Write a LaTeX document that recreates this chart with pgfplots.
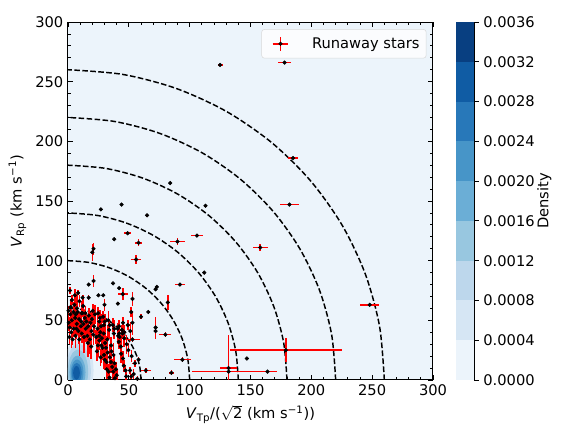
\documentclass[border=0pt]{standalone}
\usepackage{pgfplots}
\usepackage{pgfplotstable}
\usepackage{fontspec}
\setmainfont{DejaVu Sans}
\pgfplotsset{compat=1.18}

% Blues levels (contourf bins, 0.0004 wide)
\definecolor{cbA}{HTML}{ECF4FB}
\definecolor{cbB}{HTML}{D6E6F4}
\definecolor{cbC}{HTML}{BDD7EC}
\definecolor{cbD}{HTML}{98C7E0}
\definecolor{cbE}{HTML}{6BAED6}
\definecolor{cbF}{HTML}{4795C8}
\definecolor{cbG}{HTML}{2878B9}
\definecolor{cbH}{HTML}{105CA4}
\definecolor{cbI}{HTML}{083F81}
\definecolor{ebred}{HTML}{FF0000}

\pgfplotstableread{
x y ex ey
0.6 48 0.5 7
1.4 44 0.5 9
1.9 55 0.8 11
2.7 40 0.5 13
3.1 50 0.8 6
4.4 57 0.5 8
4.6 43 0.8 7
5.9 52 0.5 15
6.1 37 0.8 10
7.2 47 0.5 9
7.4 60 0.8 12
8.6 41 0.5 11
9.1 51 0.8 6
9.3 34 0.5 14
10.6 45 0.8 9
11.1 56 0.5 10
11.3 39 0.8 8
12.7 47 0.5 12
13.2 36 0.8 13
13.8 52 0.5 7
14.6 43 0.8 11
15.1 49 0.5 7
15.9 37 0.8 12
16.6 45 0.5 9
17.1 54 0.8 6
17.9 34 0.5 12
18.4 48 0.8 8
19.3 41 0.5 10
19.7 51 0.8 7
20.8 38 0.5 9
21.4 45 0.8 6
2.3 61 0.5 7
5.3 63 0.8 8
9.4 66 0.5 5
3.2 67 0.5 4
5.6 71 0.5 5
1.6 75 0.5 3
8.3 73 0.5 2
12.4 62 0.8 9
1.2 36 0.5 6
6.9 43 0.5 9
10.9 49 0.5 7
14.3 56 0.5 6
16.3 31 0.5 12
19.1 28 0.5 10
3.8 34 0.5 5
6.4 55 0.5 5
0.4 58 0.5 4
20.4 58 1.5 6
22.1 55 1.5 8
24.8 56 1 5
26.2 52 1.5 7
28.9 53 1.5 5
30.3 49 1 6
33.1 50 1.5 8
34.2 46 1.5 5
36.9 46 1 6
38.1 43 1.5 7
40.8 43 1.5 5
42.2 39 1 6
44.9 39 1.5 5
46.2 35 1 7
25.7 49 1 5
29.6 46 1.5 6
33.8 42 1 8
37.7 39 1.5 5
42.4 36 1 6
24.3 43 1 10
25.6 37 1 12
25.8 33 1 8
27.4 29 1 15
28.3 27 1 10
29.6 21 1 12
30.2 17 1 9
31.7 15 1 10
31.9 9 1 8
33.4 7 1 6
34.1 2 1 5
26.6 40 1 7
27.8 35 1 9
30.5 31 1 14
31.2 27 1 10
32.6 23 1 8
34.4 19 1 11
35.3 15 1 9
36.4 11 1 7
37.2 7 1 6
27.1 45 1 10
29.4 39 1 8
32.3 34 1 12
35.5 29 1 7
35.8 24 1 9
37.4 21 1 10
38.3 14 1 8
39.4 9 1 6
40.1 4 1 5
24.6 29 1 10
23.8 24 1 8
26.9 19 1 7
38.6 1.5 1 4
23.2 36 1 6
41.3 37 1 7
41.8 32 1.5 6
43.4 28 1 10
43.7 22 1 8
45.2 18 1 6
45.9 12 1 5
47.3 8 1 4
47.8 3 1 4
45.2 48 1.5 5
49.1 46 1.5 4
53 48 1.5 10
51.2 41 1 8
53 34 6 2
55 14 2 3
51 8 1 3
49.6 25 1 6
52.3 20 1 5
48.2 30 1 8
54 5 1 4
42 45 1 5
44.4 42 1.5 4
46.3 40 1 6
57 1 1 2
58 17 1 2
52 3 1 2
45 72 4 5
53 68 1 6
52 57 1 4
60 53 1 2
66 57 1 2
72 44 1 9
72 41 1 7
80 38 5 2
82 65 1 6
73 78 1 1
72 76 1 1
92 80 4 1
37 81 0.5 0.5
42 77 1 1
29 71 1 1
25 71 1 1
30 63 1 5
41 64 1 1
17 80 1 1
21 83 1 5
17 69 1 2
12 69 1 2
8 57 1 2
2 61 1 2
12 56 1 2
64 8 4 2
85 6 2 2
94 17 7 2
132 10 7 28
132 7 30 2
164 7 8 1
147 18 0 0
179 25 46 10
248 63 8 1
158 111 6 3
90 116 6 3
106 121 5 1
112 90 0.5 0.5
56 101 4 4
58 115 3 3
49 123 3 1
38 118 0.5 0.5
65 138 1 1
44 147 0.5 0.5
27 143 0.5 0.5
84 165 0.5 0.5
113 146 1 1
125 264 2 1
178 266 5 1
185 186 4 1
182 147 8 1
20 107 1 7
21 110 1 5
}\runaway

\begin{document}
\begin{tikzpicture}[font=\fontsize{11}{13}\selectfont]
\path[use as bounding box] (-51pt,-39pt) rectangle (381pt,285pt);

\begin{axis}[
  at={(0pt,0pt)}, anchor=south west,
  scale only axis,
  width=273.75pt, height=268.5pt,
  xmin=0, xmax=300, ymin=0, ymax=300,
  xtick={0,50,...,300}, ytick={0,50,...,300},
  minor tick num=4,
  tick align=inside,
  xtick pos=both, ytick pos=both,
  xticklabel pos=lower, yticklabel pos=left,
  major tick length=3.5pt, minor tick length=2pt,
  tick style={black, line width=0.6pt},
  axis line style={line width=0.75pt},
  /pgf/number format/assume math mode=true,
  axis background/.style={fill=cbA},
  xlabel={\textit{V}\textsubscript{Tp}/($\sqrt{\mbox{2}}$ (km s\textsuperscript{−1}))},
  ylabel={\textit{V}\textsubscript{Rp} (km s\textsuperscript{−1})},
  legend style={at={(0.982,0.98)}, anchor=north east, draw=black!15,
    rounded corners=2pt, fill=white, fill opacity=0.8, text opacity=1,
    inner xsep=3pt, inner ysep=4pt},
  legend cell align=left,
]
% density contours
\addplot[fill=cbB, draw=none, smooth, forget plot] coordinates {
(9,-20) (15,-16.2) (19.4,-6) (21,8) (19.4,22) (15,32.2) (9,36) (3,32.2) (-1.4,22) (-3,8) (-1.4,-6) (3,-16.2) (9,-20)};
\addplot[fill=cbC, draw=none, smooth, forget plot] coordinates {
(8.6,-15.5) (13.7,-12.4) (17.4,-4) (18.8,7.5) (17.4,19) (13.7,27.4) (8.6,30.5) (3.5,27.4) (-0.2,19) (-1.6,7.5) (-0.2,-4) (3.5,-12.4) (8.6,-15.5)};
\addplot[fill=cbD, draw=none, smooth, forget plot] coordinates {
(8.2,-11.5) (12.4,-9) (15.5,-2.25) (16.6,7) (15.5,16.25) (12.4,23) (8.2,25.5) (4,23) (0.9,16.25) (-0.2,7) (0.9,-2.25) (4,-9) (8.2,-11.5)};
\addplot[fill=cbE, draw=none, smooth, forget plot] coordinates {
(7.8,-7.6) (11.1,-5.7) (13.5,-0.6) (14.4,6.4) (13.5,13.4) (11.1,18.5) (7.8,20.4) (4.5,18.5) (2.1,13.4) (1.2,6.4) (2.1,-0.6) (4.5,-5.7) (7.8,-7.6)};
\addplot[fill=cbF, draw=none, smooth, forget plot] coordinates {
(7.5,-4.8) (10.1,-3.3) (12,0.7) (12.7,6.2) (12,11.7) (10.1,15.7) (7.5,17.2) (4.9,15.7) (3,11.7) (2.3,6.2) (3,0.7) (4.9,-3.3) (7.5,-4.8)};
\addplot[fill=cbG, draw=none, smooth, forget plot] coordinates {
(7.2,-2.3) (9.2,-1.2) (10.7,1.85) (11.2,6) (10.7,10.2) (9.2,13.2) (7.2,14.3) (5.2,13.2) (3.7,10.2) (3.2,6) (3.7,1.85) (5.2,-1.2) (7.2,-2.3)};
\addplot[fill=cbH, draw=none, smooth, forget plot] coordinates {
(7,0.2) (8.4,1) (9.4,3.1) (9.8,6) (9.4,8.9) (8.4,11) (7,11.8) (5.6,11) (4.6,8.9) (4.2,6) (4.6,3.1) (5.6,1) (7,0.2)};

% reference circles, r = 60 ... 260 km/s
\pgfplotsset{circ/.style={black, line width=1.1pt, dash pattern=on 4.2pt off 1.8pt, smooth, forget plot}}
\addplot[circ] coordinates {(60,0) (59.09,10.42) (56.38,20.52) (51.96,30) (45.96,38.57) (38.57,45.96) (30,51.96) (20.52,56.38) (10.42,59.09) (0,60)};
\addplot[circ] coordinates {(100,0) (98.48,17.36) (93.97,34.20) (86.60,50) (76.60,64.28) (64.28,76.60) (50,86.60) (34.20,93.97) (17.36,98.48) (0,100)};
\addplot[circ] coordinates {(140,0) (137.87,24.31) (131.56,47.88) (121.24,70) (107.25,89.99) (89.99,107.25) (70,121.24) (47.88,131.56) (24.31,137.87) (0,140)};
\addplot[circ] coordinates {(180,0) (177.27,31.26) (169.14,61.56) (155.88,90) (137.89,115.70) (115.70,137.89) (90,155.88) (61.56,169.14) (31.26,177.27) (0,180)};
\addplot[circ] coordinates {(220,0) (216.66,38.20) (206.73,75.24) (190.53,110) (168.53,141.41) (141.41,168.53) (110,190.53) (75.24,206.73) (38.20,216.66) (0,220)};
\addplot[circ] coordinates {(260,0) (256.05,45.15) (244.32,88.93) (225.17,130) (199.17,167.13) (167.13,199.17) (130,225.17) (88.93,244.32) (45.15,256.05) (0,260)};

% runaway stars: red error bars, black dots
\addplot[ebred, only marks, mark=*, mark size=1.35pt,
  mark options={draw=black, fill=black},
  legend image code/.code={
    \path[draw=none, fill=none] (0cm,0cm) -- (1.15cm,0cm);
    \draw[ebred, line width=1.15pt] (0.18cm,0cm) -- (0.60cm,0cm) (0.39cm,-0.19cm) -- (0.39cm,0.19cm);
    \fill[black] (0.39cm,0cm) circle (1.35pt);},
  error bars/.cd, x dir=both, x explicit, y dir=both, y explicit,
  error mark=none, error bar style={draw=ebred, solid, line width=1.15pt}]
  table[x=x, y=y, x error=ex, y error=ey] {\runaway};
\addlegendentry{Runaway stars}
\end{axis}

% colour bar
\begin{axis}[
  at={(291pt,0pt)}, anchor=south west,
  scale only axis,
  width=13.5pt, height=268.5pt,
  xmin=0, xmax=1, ymin=0, ymax=36,
  xtick=\empty,
  ytick={0,4,...,36},
  yticklabels={0.0000,0.0004,0.0008,0.0012,0.0016,0.0020,0.0024,0.0028,0.0032,0.0036},
  ytick pos=right, yticklabel pos=right,
  tick align=outside,
  major tick length=3.5pt,
  tick style={black, line width=0.6pt},
  axis line style={line width=0.75pt},
  ylabel={Density}, ylabel near ticks, ylabel shift=-5pt,
]
\addplot[fill=cbA, draw=none] coordinates {(0,0) (1,0) (1,4) (0,4)};
\addplot[fill=cbB, draw=none] coordinates {(0,4) (1,4) (1,8) (0,8)};
\addplot[fill=cbC, draw=none] coordinates {(0,8) (1,8) (1,12) (0,12)};
\addplot[fill=cbD, draw=none] coordinates {(0,12) (1,12) (1,16) (0,16)};
\addplot[fill=cbE, draw=none] coordinates {(0,16) (1,16) (1,20) (0,20)};
\addplot[fill=cbF, draw=none] coordinates {(0,20) (1,20) (1,24) (0,24)};
\addplot[fill=cbG, draw=none] coordinates {(0,24) (1,24) (1,28) (0,28)};
\addplot[fill=cbH, draw=none] coordinates {(0,28) (1,28) (1,32) (0,32)};
\addplot[fill=cbI, draw=none] coordinates {(0,32) (1,32) (1,36) (0,36)};
\end{axis}
\end{tikzpicture}
\end{document}
